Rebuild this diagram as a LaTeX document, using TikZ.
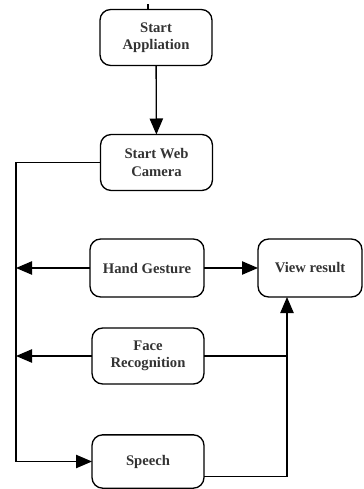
\documentclass[tikz,border=0pt]{standalone}
\usepackage{fontspec}
\setmainfont{Liberation Serif}
\usetikzlibrary{arrows.meta}
\tikzset{>={Triangle[width=10pt,length=12pt]}}

\begin{document}
\begin{tikzpicture}[
    x = 0.75pt, y = -0.75pt,
    line width = 1pt,
    box/.style = {draw, rounded corners = 8pt, align = center,
        minimum width = 84pt, minimum height = 42pt,
        inner sep = 2pt, outer sep = 0mm,
        font = \fontsize{11}{13}\selectfont\bfseries, text = black!80}
  ]
  \useasboundingbox (0,0) rectangle (364,489);

  \node[box] (app) at (156,37.5) {Start\\Appliation};
  \node[box] (cam) at (156.5,162.5) {Start Web\\Camera};
  \node[box, minimum width=85.5pt, minimum height=43.5pt] (hand) at (147,268) {Hand Gesture};
  \node[box, minimum width=78pt, minimum height=43.5pt] (view) at (310,268) {View result};
  \node[box] (face) at (148,356) {Face\\Recognition};
  \node[box, minimum height=40pt] (speech) at (148,461.5) {Speech};

  \coordinate (top) at (148,4);
  \coordinate (trunk) at (16,0);
  \coordinate (bus) at (287,0);

  \draw (top) -- (top |- app.north);
  \draw[->] (app) -- (cam);
  \draw[->] (cam.west) -| (trunk |- speech.west) -- (speech.west);
  \draw[->] (hand) -- (hand -| trunk);
  \draw[->] (face) -- (face -| trunk);
  \draw[->] (hand) -- (view);
  \draw (face.east) -- (face.east -| bus);
  \draw[->] ([yshift=-11pt]speech.east) -| (view.south -| bus);
\end{tikzpicture}
\end{document}
